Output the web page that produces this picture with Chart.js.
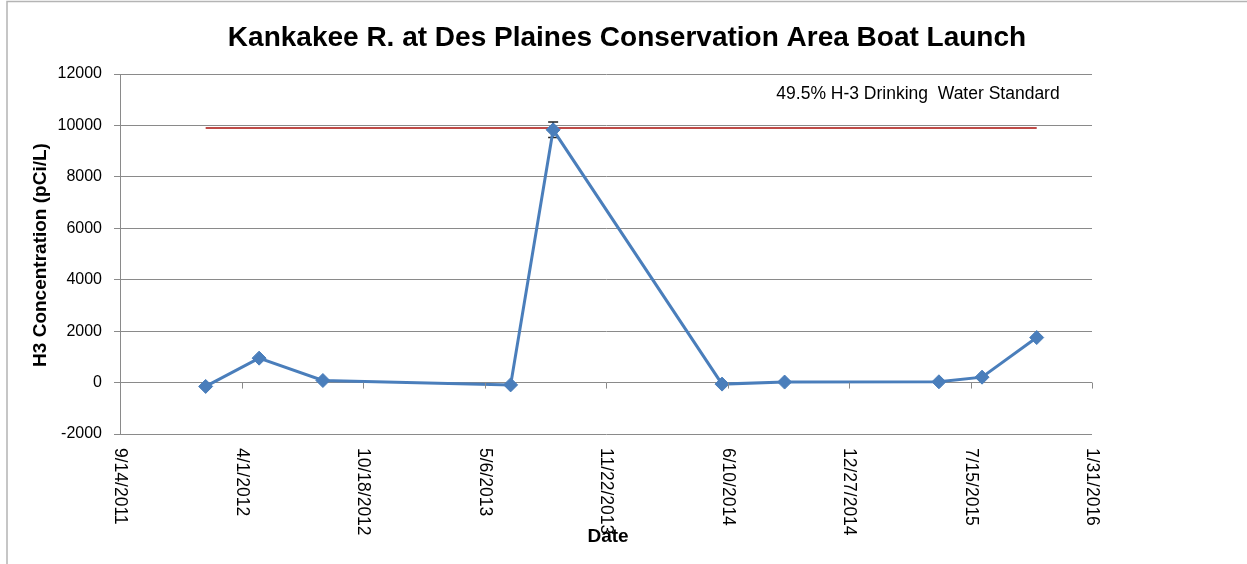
<!DOCTYPE html>
<html>
<head>
<meta charset="utf-8">
<script src="https://cdn.jsdelivr.net/npm/chart.js@4/dist/chart.umd.min.js"></script>
<style>
  body { margin: 0; background: #fff; }
  #wrap { width: 1247px; height: 564px; position: relative; }
</style>
</head>
<body>
<div id="wrap"><canvas id="h3chart"></canvas></div>
<script>
// sample dates and H-3 results (pCi/L)
let sampleDates = ['2/2/2012', '4/30/2012', '8/13/2012', '6/18/2013', '8/27/2013',
                   '6/1/2014', '9/12/2014', '5/24/2015', '8/3/2015', '11/1/2015']
let h3Values = [-150, 950, 80, -90, 9830, -60, 20, 30, 210, 1750]
let h3Errors = [0, 0, 0, 0, 300, 0, 0, 0, 0, 0]

// 49.5% of the 20000 pCi/L drinking water standard
let standardValue = 9900
let standardDates = ['2/2/2012', '11/1/2015']

// axis ranges (x in excel day numbers)
let xMin = '9/14/2011'
let xMax = '1/31/2016'
let xStep = 200
let yMin = -2000
let yMax = 12000
let yStep = 2000

let chartTitle = 'Kankakee R. at Des Plaines Conservation Area Boat Launch'
let yTitle = 'H3 Concentration (pCi/L)'
let xTitle = 'Date'
let standardLabel = '49.5% H-3 Drinking  Water Standard'

//date string -> excel serial day
function toSerial(s) {
	let p = s.split('/')
	return Math.round((Date.UTC(+p[2], +p[0] - 1, +p[1]) - Date.UTC(1899, 11, 30)) / 86400000)
}
//excel serial day -> M/D/YYYY
function fromSerial(n) {
	let d = new Date(Date.UTC(1899, 11, 30) + n * 86400000)
	return (d.getUTCMonth() + 1) + '/' + d.getUTCDate() + '/' + d.getUTCFullYear()
}

let samplePoints = Array()
for (let i = 0; i < sampleDates.length; i++) {
	samplePoints.push({ x: toSerial(sampleDates[i]), y: h3Values[i] })
}
let standardPoints = Array()
for (let i = 0; i < standardDates.length; i++) {
	standardPoints.push({ x: toSerial(standardDates[i]), y: standardValue })
}

const FONT = "'Liberation Sans', Arial, sans-serif"
const GRID = '#8a8a8a'

//error bars, drawn before the markers so the diamonds sit on top
const errorBars = {
	id: 'errorBars',
	beforeDatasetsDraw(chart) {
		let ctx = chart.ctx
		let xs = chart.scales.x, ys = chart.scales.y
		ctx.save()
		ctx.strokeStyle = '#222'
		ctx.lineWidth = 1.5
		for (let i = 0; i < samplePoints.length; i++) {
			if (!h3Errors[i]) continue
			let px = xs.getPixelForValue(samplePoints[i].x)
			let top = ys.getPixelForValue(h3Values[i] + h3Errors[i])
			let bot = ys.getPixelForValue(h3Values[i] - h3Errors[i])
			ctx.beginPath()
			ctx.moveTo(px, top); ctx.lineTo(px, bot)
			ctx.moveTo(px - 5, top); ctx.lineTo(px + 5, top)
			ctx.moveTo(px - 5, bot); ctx.lineTo(px + 5, bot)
			ctx.stroke()
		}
		ctx.restore()
	}
}

//excel style text: title, axis titles, rotated date labels, frame
const excelText = {
	id: 'excelText',
	beforeDraw(chart) {
		let ctx = chart.ctx
		ctx.save()
		ctx.fillStyle = '#fff'
		ctx.fillRect(0, 0, chart.width, chart.height)
		ctx.strokeStyle = '#b4b4b4'
		ctx.lineWidth = 1.5
		ctx.beginPath()
		ctx.moveTo(7, chart.height); ctx.lineTo(7, 1.5); ctx.lineTo(chart.width, 1.5)
		ctx.stroke()
		ctx.restore()
	},
	afterDraw(chart) {
		let ctx = chart.ctx
		let xs = chart.scales.x, ys = chart.scales.y
		let area = chart.chartArea
		let y0 = ys.getPixelForValue(0)
		ctx.save()

		//tick marks on the zero line
		ctx.strokeStyle = GRID
		ctx.lineWidth = 1
		for (let i = 0; i < xs.ticks.length; i++) {
			let px = Math.round(xs.getPixelForTick(i)) + 0.5
			ctx.beginPath()
			ctx.moveTo(px, y0); ctx.lineTo(px, y0 + 6)
			ctx.stroke()
		}

		//date labels read top to bottom
		ctx.fillStyle = '#000'
		ctx.font = '17.5px ' + FONT
		ctx.textAlign = 'left'
		ctx.textBaseline = 'middle'
		for (let i = 0; i < xs.ticks.length; i++) {
			let px = xs.getPixelForTick(i)
			ctx.save()
			ctx.translate(px, area.bottom + 14)
			ctx.rotate(Math.PI / 2)
			ctx.fillText(fromSerial(xs.ticks[i].value), 0, 0)
			ctx.restore()
		}

		ctx.textAlign = 'center'
		ctx.font = 'bold 28px ' + FONT
		ctx.fillText(chartTitle, 627, 38)

		ctx.font = 'bold 19px ' + FONT
		ctx.fillText(xTitle, 608, 537)

		ctx.save()
		ctx.translate(41, 255)
		ctx.rotate(-Math.PI / 2)
		ctx.fillText(yTitle, 0, 0)
		ctx.restore()

		ctx.font = '17.5px ' + FONT
		ctx.fillText(standardLabel, 918, 94)
		ctx.restore()
	}
}

new Chart('h3chart', {
	type: 'line',
	data: {
		datasets: [{
			data: samplePoints,
			borderColor: '#4a7ebb',
			backgroundColor: '#4a7ebb',
			borderWidth: 3,
			pointStyle: 'rectRot',
			pointRadius: 7,
			pointBorderWidth: 1,
			tension: 0,
			order: 0
		}, {
			data: standardPoints,
			borderColor: '#be4b48',
			borderWidth: 2,
			pointRadius: 0,
			order: 1
		}]
	},
	options: {
		responsive: true,
		maintainAspectRatio: false,
		animation: false,
		layout: { padding: { top: 74, right: 155, bottom: 130, left: 0 } },
		plugins: {
			legend: { display: false },
			title: { display: false },
			tooltip: { enabled: false }
		},
		scales: {
			x: {
				type: 'linear',
				min: toSerial(xMin),
				max: toSerial(xMax),
				ticks: { display: false, stepSize: xStep },
				grid: { display: false },
				border: { display: false },
				afterFit: s => { s.height = 0 }
			},
			y: {
				min: yMin,
				max: yMax,
				ticks: {
					stepSize: yStep,
					color: '#000',
					padding: 12,
					font: { family: FONT, size: 16 },
					callback: v => String(v)
				},
				grid: { color: GRID, tickLength: 6, tickColor: GRID },
				border: { color: GRID },
				afterFit: s => { s.width = 120 }
			}
		}
	},
	plugins: [errorBars, excelText]
})
</script>
</body>
</html>
